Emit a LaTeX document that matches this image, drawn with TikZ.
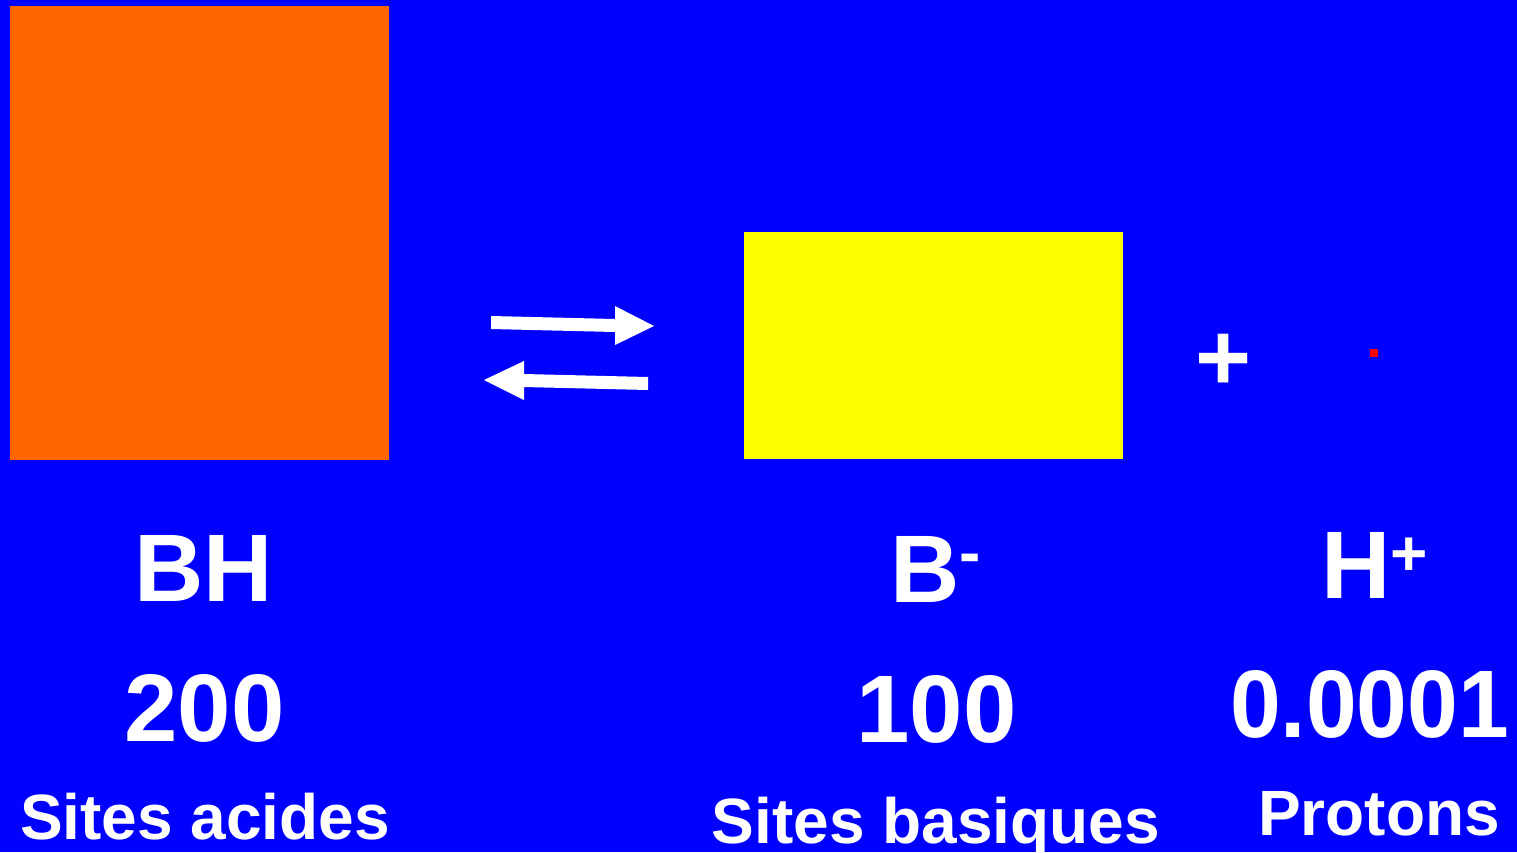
\documentclass[tikz,border=0pt]{standalone}
\usepackage{fontspec}
\setmainfont{Liberation Sans}
\definecolor{bgblue}{HTML}{0000FF}
\definecolor{acidorange}{HTML}{FF6600}
\definecolor{baseyellow}{HTML}{FFFF00}
\definecolor{protonred}{HTML}{FF0000}
\tikzset{
  bigtext/.style={text=white, font=\fontsize{96}{96}\selectfont\bfseries, inner sep=0pt, anchor=base},
  sitetext/.style={text=white, font=\fontsize{64}{64}\selectfont\bfseries, inner sep=0pt, anchor=base},
  block/.style={inner sep=0pt, outer sep=0pt, anchor=north west, draw=none},
  arrowshape/.style={fill=white, draw=none}
}
\begin{document}
\begin{tikzpicture}[x=1pt, y=-1pt]
  \fill[bgblue] (0,0) rectangle (1517,852);
  \useasboundingbox (0,0) rectangle (1517,852);
  % blocks
  \node[block, fill=acidorange, minimum width=379pt, minimum height=454pt] (acid) at (10,6) {};
  \node[block, fill=baseyellow, minimum width=379pt, minimum height=227pt] (base) at (744,232) {};
  \node[block, fill=protonred, minimum width=8pt, minimum height=8pt] (proton) at (1370,349) {};
  % equilibrium arrows
  \fill[arrowshape] (491,316) -- (615,319) -- (615,306) -- (654,326) -- (615,345) -- (615,332) -- (491,329) -- cycle;
  \fill[arrowshape] (648,377) -- (524,374) -- (524,361) -- (484,380) -- (524,400) -- (524,387) -- (648,390) -- cycle;
  % plus sign
  \node[text=white, font=\fontsize{96}{96}\selectfont\bfseries, inner sep=0pt] (plus) at (1223.5,362) {+};
  % formulas
  \node[bigtext] (bhf) at (204,601) {BH};
  \node[bigtext, anchor=base west] (bf) at (890,602) {B\raisebox{28pt}{\fontsize{64}{64}\selectfont -}};
  \node[bigtext, anchor=base west] (hf) at (1321,598) {H\raisebox{23pt}{\fontsize{64}{64}\selectfont +}};
  % numbers
  \node[bigtext] (bhn) at (204.5,741) {200};
  \node[bigtext] (bn) at (936.5,742) {100};
  \node[bigtext] (hn) at (1369.5,737) {\scalebox{0.95}[1]{0.0001}};
  % names
  \node[sitetext] (bhl) at (205,839) {Sites acides};
  \node[sitetext] (bl) at (936,843) {Sites basiques};
  \node[sitetext] (hl) at (1379,835) {Protons};
\end{tikzpicture}
\end{document}
